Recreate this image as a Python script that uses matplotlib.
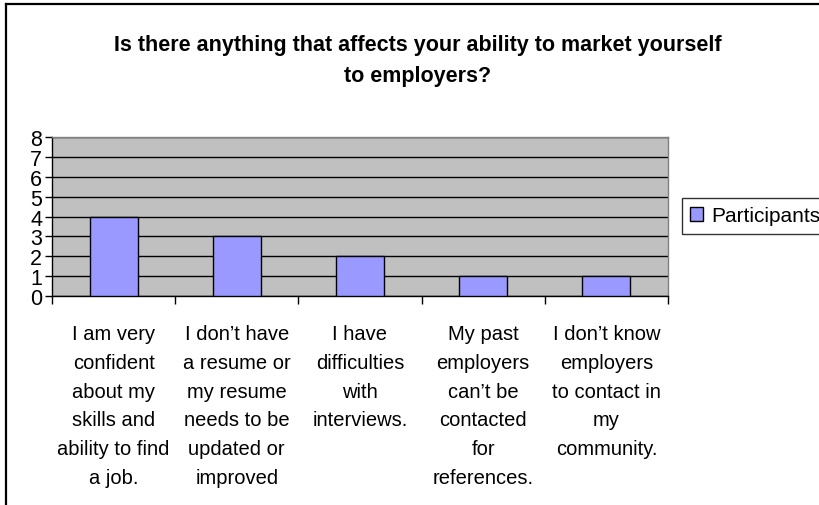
import matplotlib.pyplot as plt
from matplotlib.lines import Line2D
from matplotlib.patches import Patch
import numpy as np

# Respostas da pesquisa
categorias = [
    "I am very\nconfident\nabout my\nskills and\nability to find\na job.",
    "I don\u2019t have\na resume or\nmy resume\nneeds to be\nupdated or\nimproved",
    "I have\ndifficulties\nwith\ninterviews.",
    "My past\nemployers\ncan\u2019t be\ncontacted\nfor\nreferences.",
    "I don\u2019t know\nemployers\nto contact in\nmy\ncommunity.",
]
participantes = [4, 3, 2, 1, 1]
y_ticks = [0, 1, 2, 3, 4, 5, 6, 7, 8]
titulo = "Is there anything that affects your ability to market yourself\nto employers?"

plt.rcParams['font.family'] = ['Liberation Sans', 'DejaVu Sans']

W, H = 820, 506
fig = plt.figure(figsize=(W / 100, H / 100), dpi=100)
fig.patch.set_facecolor('white')

# Moldura do grafico (esquerda e topo)
fig.add_artist(Line2D([6 / W, 6 / W], [0, 1 - 5 / H], color='black', lw=1.6))
fig.add_artist(Line2D([6 / W, 1], [1 - 5 / H, 1 - 5 / H], color='black', lw=1.6))

left, right, top, bottom = 52, 668, 138, 297
ax = fig.add_axes([left / W, 1 - bottom / H, (right - left) / W, (bottom - top) / H])
ax.set_facecolor('#C0C0C0')

x = np.arange(len(categorias))
ax.bar(x, participantes, width=0.39, color='#9999FF', edgecolor='black', linewidth=1,
       label='Participants', zorder=3)

ax.set_xlim(-0.5, len(categorias) - 0.5)
ax.set_ylim(0, 8)
ax.set_yticks(y_ticks)
ax.set_yticklabels([str(v) for v in y_ticks], fontsize=15.5)
ax.yaxis.grid(True, color='black', lw=1, zorder=1)
ax.set_axisbelow(True)

ax.set_xticks(x)
ax.set_xticklabels(categorias, fontsize=14.5, linespacing=1.66, va='top')
ax.set_xticks(np.arange(-0.5, len(categorias)), minor=True)
ax.tick_params(axis='x', which='major', length=0, pad=20)
ax.tick_params(axis='x', which='minor', length=6, width=1, direction='out')
ax.tick_params(axis='y', length=5, width=1, direction='out', pad=2)

for lado in ['top', 'right']:
    ax.spines[lado].set_color('#808080')
    ax.spines[lado].set_linewidth(1)
for lado in ['left', 'bottom']:
    ax.spines[lado].set_color('black')
    ax.spines[lado].set_linewidth(1)

fig.text(418 / W, 1 - 61 / H, titulo, ha='center', va='center', fontsize=15.5,
         fontweight='bold', linespacing=1.6)

handle = Patch(facecolor='#9999FF', edgecolor='black', linewidth=1)
leg = fig.legend([handle], ['Participants'], loc='upper left',
                 bbox_to_anchor=(682 / W, 1 - 199 / H), fontsize=15,
                 frameon=True, fancybox=False, edgecolor='black',
                 handlelength=0.6, handleheight=0.6, handletextpad=0.4,
                 borderpad=0.4, borderaxespad=0)
leg.get_frame().set_linewidth(1)

plt.savefig('out.png', dpi=100)
plt.close()
